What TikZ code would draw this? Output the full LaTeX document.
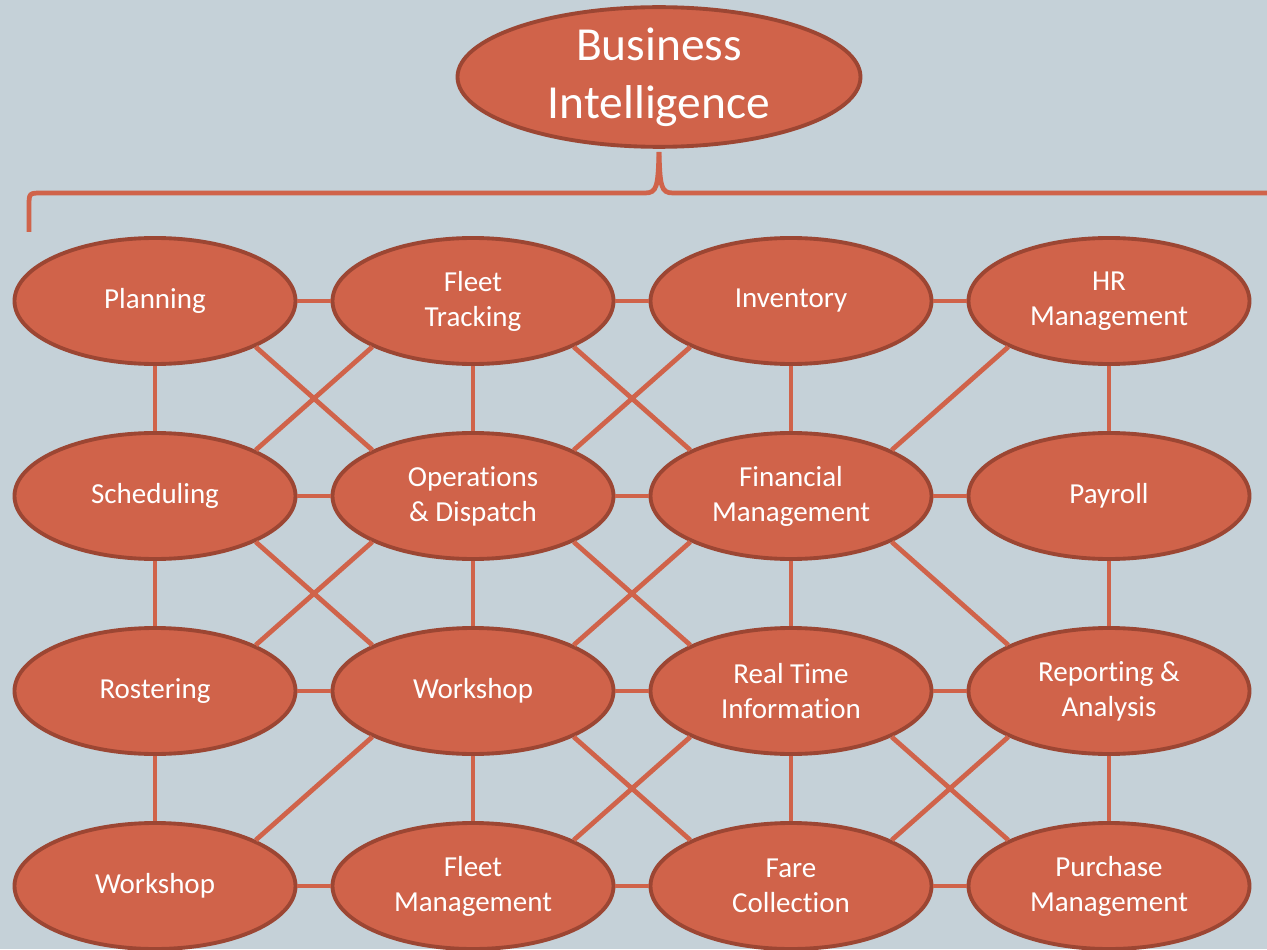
\documentclass[tikz,border=0pt]{standalone}
\usepackage{fontspec}
\setmainfont{Carlito}[Ligatures=NoCommon]
\usetikzlibrary{shapes.geometric}
\definecolor{bg}{HTML}{C5D1D8}
\definecolor{rust}{HTML}{D0634A}
\definecolor{rustdark}{HTML}{9C4633}
\tikzset{
  module/.style={ellipse,draw=rustdark,fill=rust,line width=2.2pt,minimum width=5.62cm,minimum height=2.52cm,inner sep=0pt,text=white,align=center,font=\fontsize{16.5}{20}\selectfont},
  link/.style={rust,line width=2.7pt}
}
\begin{document}
\begin{tikzpicture}
        \fill[bg] (0,0) rectangle (25.34,18.98);
        \useasboundingbox (0,0) rectangle (25.34,18.98);
        % top
        \node[module,minimum width=8.06cm,minimum height=2.56cm,font=\fontsize{27}{33}\selectfont] (bi) at (13.18,17.44) {Business\\Intelligence};
        \coordinate (tip) at (13.18,15.94);
        \draw[link] (0.58,14.34) -- (0.58,14.85) .. controls (0.58,15.12) .. (0.85,15.12) -- (12.9,15.12) .. controls (13.14,15.12) and (13.16,15.25) .. (tip);
        \draw[link] (tip) .. controls (13.2,15.25) and (13.22,15.12) .. (13.46,15.12) -- (25.34,15.12);
        % modules
        \node[module] (plan) at (3.1,12.96) {Planning};
        \node[module] (track) at (9.46,12.96) {Fleet\\Tracking};
        \node[module] (inv) at (15.82,12.96) {Inventory};
        \node[module] (hr) at (22.18,12.96) {HR\\Management};
        \node[module] (sched) at (3.1,9.06) {Scheduling};
        \node[module] (ops) at (9.46,9.06) {Operations\\\& Dispatch};
        \node[module] (fin) at (15.82,9.06) {Financial\\Management};
        \node[module] (pay) at (22.18,9.06) {Payroll};
        \node[module] (roster) at (3.1,5.16) {Rostering};
        \node[module] (wshop) at (9.46,5.16) {Workshop};
        \node[module] (rti) at (15.82,5.16) {Real Time\\Information};
        \node[module] (report) at (22.18,5.16) {Reporting \&\\Analysis};
        \node[module] (wshopb) at (3.1,1.26) {Workshop};
        \node[module] (fleetm) at (9.46,1.26) {Fleet\\Management};
        \node[module] (fare) at (15.82,1.26) {Fare\\Collection};
        \node[module] (purch) at (22.18,1.26) {Purchase\\Management};
        % rows
        \draw[link] (plan) -- (track) (track) -- (inv) (inv) -- (hr);
        \draw[link] (sched) -- (ops) (ops) -- (fin) (fin) -- (pay);
        \draw[link] (roster) -- (wshop) (wshop) -- (rti) (rti) -- (report);
        \draw[link] (wshopb) -- (fleetm) (fleetm) -- (fare) (fare) -- (purch);
        % columns
        \draw[link] (plan) -- (sched) (sched) -- (roster) (roster) -- (wshopb);
        \draw[link] (track) -- (ops) (ops) -- (wshop) (wshop) -- (fleetm);
        \draw[link] (inv) -- (fin) (fin) -- (rti) (rti) -- (fare);
        \draw[link] (hr) -- (pay) (pay) -- (report) (report) -- (purch);
        % diagonals
        \draw[link] (plan.south east) -- (ops.north west) (track.south west) -- (sched.north east);
        \draw[link] (track.south east) -- (fin.north west) (inv.south west) -- (ops.north east);
        \draw[link] (hr.south west) -- (fin.north east);
        \draw[link] (sched.south east) -- (wshop.north west) (ops.south west) -- (roster.north east);
        \draw[link] (ops.south east) -- (rti.north west) (fin.south west) -- (wshop.north east);
        \draw[link] (fin.south east) -- (report.north west);
        \draw[link] (wshop.south west) -- (wshopb.north east);
        \draw[link] (wshop.south east) -- (fare.north west) (rti.south west) -- (fleetm.north east);
        \draw[link] (rti.south east) -- (purch.north west) (report.south west) -- (fare.north east);
    \end{tikzpicture}
\end{document}
